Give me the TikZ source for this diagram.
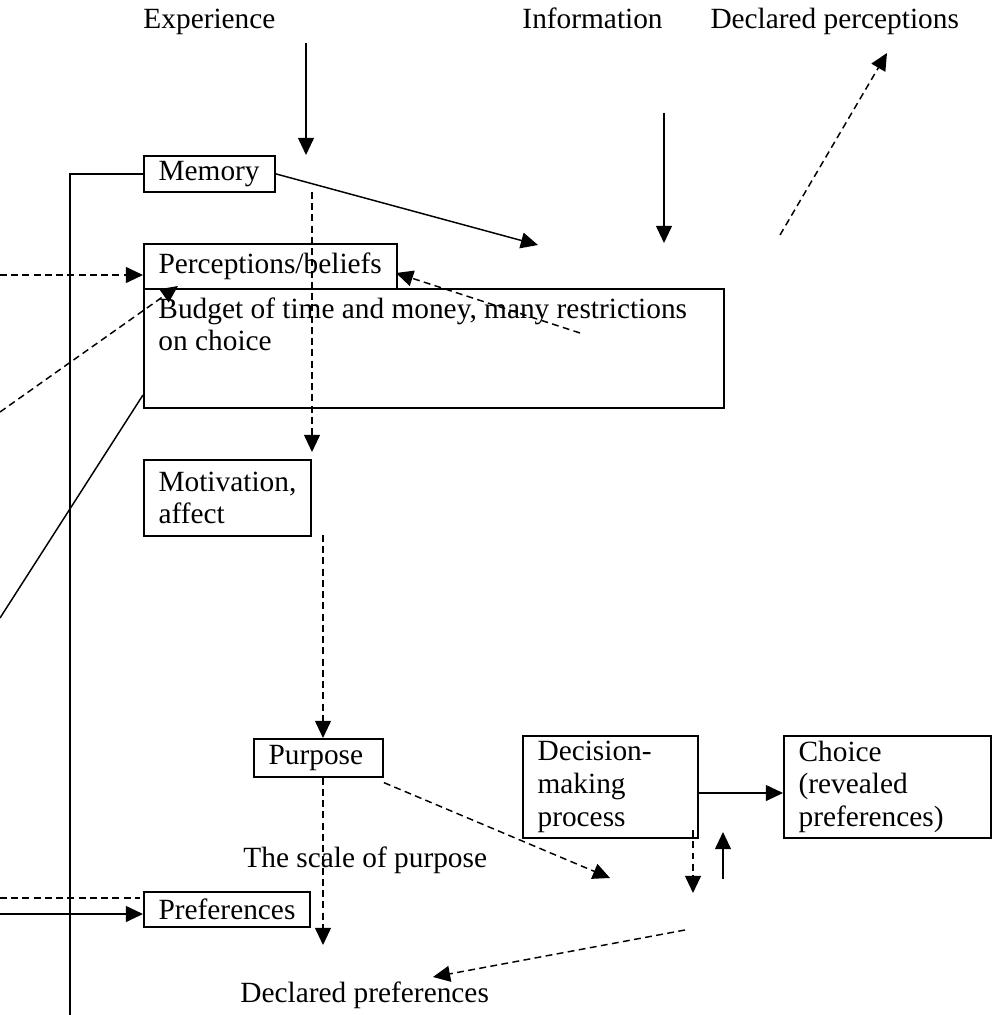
\documentclass[tikz,border=0pt]{standalone}
\usepackage{fontspec}
\setmainfont{Liberation Serif}
\usetikzlibrary{arrows.meta}

\begin{document}
\begin{tikzpicture}[
      x=0.409pt, y=-0.409pt,
      font=\fontsize{12pt}{13.3pt}\selectfont,
      box/.style={draw, line width=0.75pt, anchor=north west, align=left,
        inner xsep=6pt, inner ysep=1pt},
      conn/.style={line width=0.6pt},
      arr/.style={conn, -{Triangle[length=7pt,width=6.5pt]}},
      dasharr/.style={arr, dash pattern=on 2.8pt off 1.8pt},
      dashline/.style={conn, dash pattern=on 2.8pt off 1.8pt},
      lbl/.style={anchor=base west, inner sep=0pt}
    ]
    \useasboundingbox (0,0) rectangle (994,1015);

    % boxes
    \node[box, text width=41.6pt, minimum height=14.7pt] (mem) at (143,155) {Memory};
    \node[box, text width=91.5pt, minimum height=18.4pt] (perc) at (143,243) {Perceptions/beliefs};
    \node[box, text width=225.2pt, minimum height=48.7pt] (budget) at (143,288) {};
    \node[anchor=north west, inner sep=0pt, align=left] (budtext) at (158,297)
      {Budget of time and money, many restrictions\\on choice};
    \node[box, text width=56.3pt, minimum height=31.1pt] (motiv) at (143,459) {Motivation,\\affect};
    \node[box, text width=40.8pt, minimum height=15.5pt] (purp) at (253,738) {Purpose};
    \node[box, text width=59.6pt, minimum height=41.7pt] (dec) at (522,735) {Decision-\\making\\process};
    \node[box, text width=72.7pt, minimum height=41.7pt] (cho) at (783,735) {Choice\\(revealed\\preferences)};
    \node[box, text width=55.9pt, minimum height=14.3pt] (pref) at (143,891) {Preferences};

    % free labels
    \node[lbl] (exper) at (143,29) {Experience};
    \node[lbl] (info) at (522,29) {Information};
    \node[lbl] (declperc) at (710,29) {Declared perceptions};
    \node[lbl] (scale) at (243,867) {The scale of purpose};
    \node[lbl] (declpref) at (240,1002) {Declared preferences};

    % loose ends
    \coordinate (e1) at (306,43);
    \coordinate (e2) at (306,155);
    \coordinate (m1) at (538,245);
    \coordinate (i1) at (664,113);
    \coordinate (i2) at (664,243);
    \coordinate (d1) at (780,235);
    \coordinate (d2) at (887,53);
    \coordinate (v1) at (312,192);
    \coordinate (v2) at (312,452);
    \coordinate (l1) at (0,275);
    \coordinate (l2) at (0,412);
    \coordinate (l3) at (178,286);
    \coordinate (r1) at (580,333);
    \coordinate (r2) at (396,273);
    \coordinate (b2) at (0,618);
    \coordinate (low) at (70,1015);
    \coordinate (p1) at (323,535);
    \coordinate (p2) at (323,945);
    \coordinate (p3) at (610,878);
    \coordinate (q1) at (693,830);
    \coordinate (q2) at (693,893);
    \coordinate (q3) at (723,879);
    \coordinate (q4) at (723,832);
    \coordinate (q5) at (685,930);
    \coordinate (q6) at (433,977);
    \coordinate (f1) at (0,898);
    \coordinate (f2) at (0,914);

    % connectors
    \draw[arr] (e1) -- (e2);
    \draw[arr] (mem.east) -- (m1);
    \draw[arr] (i1) -- (i2);
    \draw[dasharr] (d1) -- (d2);
    \draw[dasharr] (v1) -- (v2);
    \draw[dasharr] (l1) -- (l1 -| perc.west);
    \draw[dasharr] (l2) -- (l3);
    \draw[dasharr] (r1) -- (r2);
    \draw[conn] ([yshift=5.7pt]budget.south west) -- (b2);
    \draw[conn] (mem.west) -| (low);
    \draw[dasharr] (p1) -- (p1 |- purp.north);
    \draw[dasharr] (p1 |- purp.south) -- (p2);
    \draw[dasharr] ([yshift=-2pt]purp.south east) -- (p3);
    \draw[arr] ([yshift=-2.5pt]dec.east) -- ([yshift=-2.5pt]cho.west);
    \draw[dasharr] (q1) -- (q2);
    \draw[arr] (q3) -- (q4);
    \draw[dasharr] (q5) -- (q6);
    \draw[dashline] (f1) -- ([xshift=-1.2pt]f1 -| pref.west);
    \draw[arr] (f2) -- (f2 -| pref.west);
\end{tikzpicture}
\end{document}
